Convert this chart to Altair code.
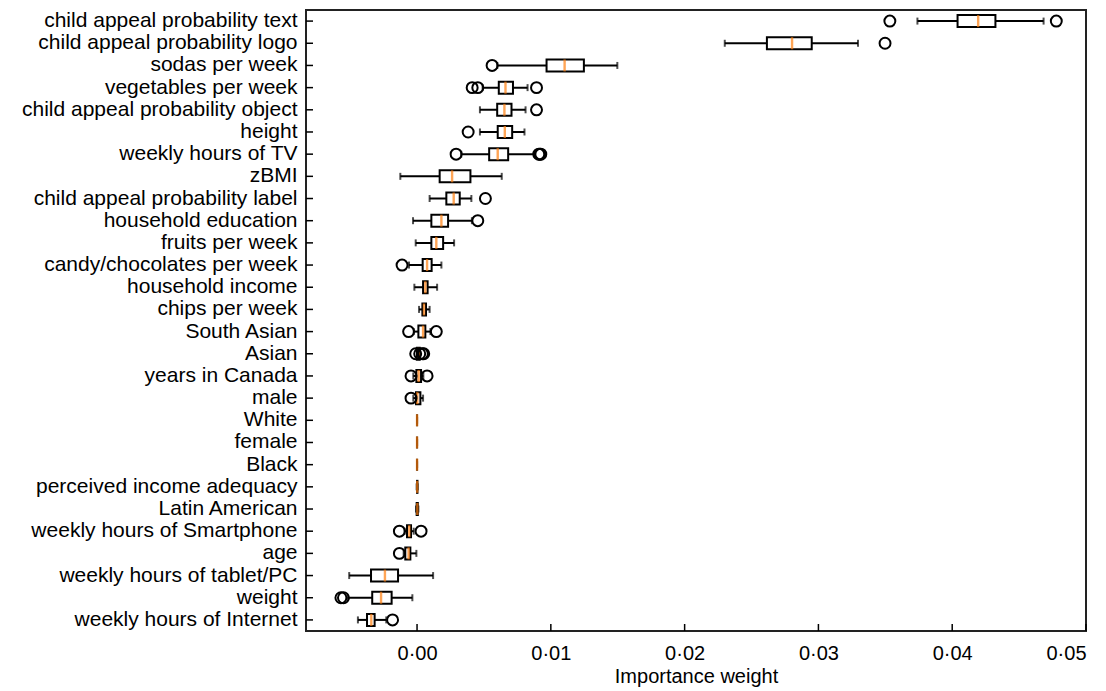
import altair as alt
import pandas as pd

labels = [
    "child appeal probability text", "child appeal probability logo", "sodas per week",
    "vegetables per week", "child appeal probability object", "height", "weekly hours of TV",
    "zBMI", "child appeal probability label", "household education", "fruits per week",
    "candy/chocolates per week", "household income", "chips per week", "South Asian", "Asian",
    "years in Canada", "male", "White", "female", "Black", "perceived income adequacy",
    "Latin American", "weekly hours of Smartphone", "age", "weekly hours of tablet/PC",
    "weight", "weekly hours of Internet",
]
wlo = [0.0374, 0.0230, 0.0060, 0.0049, 0.0047, 0.0047, 0.0033, -0.00125, 0.00094, -0.0003, -0.0001,
       -0.0006, -0.0002, 0.00015, -0.00025, 0.0, -0.00028, -0.00028, 0.0, 0.0, 0.0, -0.00003,
       -0.00008, -0.00093, -0.0010, -0.00507, -0.0052, -0.00442]
q1 = [0.0404, 0.02615, 0.00968, 0.00611, 0.00599, 0.00603, 0.00539, 0.00169, 0.00219, 0.00107, 0.00107,
      0.00042, 0.00045, 0.0004, 0.0001, 0.0, -0.00005, -0.00008, 0.0, 0.0, 0.0, 0.0,
      -0.00003, -0.00075, -0.00088, -0.00344, -0.00335, -0.00374]
med = [0.04194, 0.02803, 0.01103, 0.00661, 0.00653, 0.00656, 0.00603, 0.00262, 0.00274, 0.00182, 0.00144,
       0.00075, 0.00062, 0.00052, 0.00045, 0.00012, 0.00012, 0.00002, 0.0, 0.0, 0.0, 0.00001,
       0.00002, -0.00058, -0.00063, -0.0024, -0.00269, -0.00342]
q3 = [0.04323, 0.0295, 0.01247, 0.00717, 0.00706, 0.00711, 0.00681, 0.00399, 0.00319, 0.00232, 0.00195,
      0.00109, 0.00079, 0.00067, 0.00062, 0.0002, 0.0003, 0.00025, 0.0, 0.0, 0.0, 0.00003,
      0.00006, -0.00045, -0.0005, -0.00142, -0.0019, -0.00317]
whi = [0.04683, 0.03296, 0.01497, 0.00826, 0.00811, 0.00803, 0.0088, 0.00633, 0.00406, 0.0041, 0.00277,
       0.00182, 0.0015, 0.00094, 0.001, 0.0002, 0.00047, 0.00045, 0.0, 0.0, 0.0, 0.00005,
       0.0001, -0.00025, -0.00005, 0.0012, -0.00035, -0.0023]

out_labels = [
    "child appeal probability text", "child appeal probability text",
    "child appeal probability logo", "sodas per week",
    "vegetables per week", "vegetables per week", "vegetables per week",
    "child appeal probability object", "height",
    "weekly hours of TV", "weekly hours of TV", "weekly hours of TV", "weekly hours of TV",
    "child appeal probability label", "household education", "candy/chocolates per week",
    "South Asian", "South Asian",
    "Asian", "Asian", "Asian", "Asian",
    "years in Canada", "years in Canada", "male",
    "weekly hours of Smartphone", "weekly hours of Smartphone", "age",
    "weight", "weight", "weekly hours of Internet",
]
out_values = [
    0.03534, 0.04778,
    0.03498, 0.00561,
    0.00412, 0.00454, 0.00893,
    0.00893, 0.00382,
    0.00292, 0.0091, 0.00918, 0.00925,
    0.00511, 0.00454, -0.00112,
    -0.00063, 0.00144,
    -0.0001, 0.0002, 0.0004, 0.0005,
    -0.00045, 0.00075, -0.00045,
    -0.00132, 0.0003, -0.00132,
    -0.00569, -0.0055, -0.00183,
]
x_ticks = [0.0, 0.01, 0.02, 0.03, 0.04, 0.05]

W, H = 780, 621
FONT = "Liberation Sans"

df = pd.DataFrame({"label": labels, "wlo": wlo, "q1": q1, "med": med, "q3": q3, "whi": whi})
df_out = pd.DataFrame({"label": out_labels, "v": out_values})
df_xt = pd.DataFrame({"t": x_ticks})

xscale = alt.Scale(domain=[-0.0083, 0.05], nice=False, zero=False)
yscale = alt.Scale(type="band", domain=labels, paddingInner=0, paddingOuter=0)

xaxis = alt.Axis(
    values=x_ticks, ticks=False, domain=False, grid=False,
    labelExpr="replace(format(datum.value, '.2f'), '.', '·')",
    labelFontSize=20, labelFont=FONT, labelColor="black", labelPadding=12,
    title="Importance weight", titleFontSize=20, titleFont=FONT, titleFontWeight="normal",
    titleColor="black", titlePadding=3,
)
yaxis = alt.Axis(
    ticks=False, domain=False, grid=False, labelFontSize=21, labelFont=FONT,
    labelColor="black", labelPadding=9, labelLimit=400, title=None,
    minExtent=298, maxExtent=298,
)

base = alt.Chart(df)
Y = alt.Y("label:N", scale=yscale, axis=yaxis, sort=labels)
Yn = alt.Y("label:N", scale=yscale, sort=labels)

LW = 2
whisk = base.mark_rule(color="black", strokeWidth=LW).encode(
    x=alt.X("wlo:Q", scale=xscale, axis=xaxis), x2="whi:Q", y=Y)
caps_lo = base.mark_tick(color="black", size=7, thickness=LW).encode(
    x=alt.X("wlo:Q", scale=xscale), y=Yn)
caps_hi = base.mark_tick(color="black", size=7, thickness=LW).encode(
    x=alt.X("whi:Q", scale=xscale), y=Yn)
box = base.mark_bar(size=12, fill="white", stroke="black", strokeWidth=LW).encode(
    x=alt.X("q1:Q", scale=xscale), x2="q3:Q", y=Yn)
median = base.mark_tick(color="#ff7f0e", size=12, thickness=2.4).encode(
    x=alt.X("med:Q", scale=xscale), y=Yn)
outl = alt.Chart(df_out).mark_point(
    shape="circle", filled=False, color="black", size=120, strokeWidth=2, opacity=1
).encode(x=alt.X("v:Q", scale=xscale), y=Yn)

ytick = base.mark_rule(color="black", strokeWidth=1.5).encode(
    y=Yn, x=alt.value(0), x2=alt.value(7))
xtick = alt.Chart(df_xt).mark_rule(color="black", strokeWidth=1.5).encode(
    x=alt.X("t:Q", scale=xscale), y=alt.value(H - 7), y2=alt.value(H))

chart = alt.layer(whisk, caps_lo, caps_hi, box, median, outl, ytick, xtick).properties(
    width=W, height=H, background="white",
    padding={"left": 0, "top": 1, "right": 5, "bottom": 5}
).configure_view(stroke="#222222", strokeWidth=2)

chart.save("out.html", embed_options={"renderer": "svg", "actions": False})
